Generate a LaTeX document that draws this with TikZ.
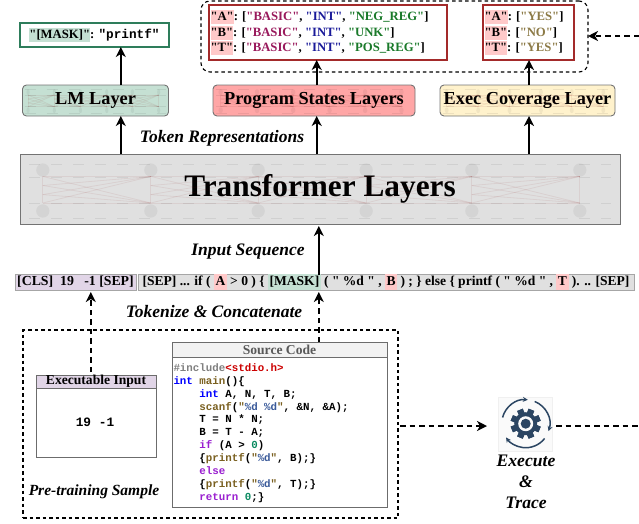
\documentclass[tikz,border=0pt]{standalone}
\usepackage{fontspec}
\setmainfont{Liberation Serif}[Ligatures=TeXOff]
\setmonofont{Liberation Mono}
\usetikzlibrary{arrows.meta, calc}
\definecolor{lmgreen}{HTML}{C5E0D3}
\definecolor{lmedge}{HTML}{2E7D5B}
\definecolor{statered}{HTML}{FFA6A6}
\definecolor{boxred}{HTML}{A32A2A}
\definecolor{hlred}{HTML}{FFC9C9}
\definecolor{covyellow}{HTML}{FFF2CC}
\definecolor{tfgray}{HTML}{E0E0E0}
\definecolor{inpurple}{HTML}{E1D5E7}
\definecolor{gearblue}{HTML}{2B4562}
\definecolor{valbasic}{HTML}{99195C}
\definecolor{valint}{HTML}{1A1A99}
\definecolor{valreg}{HTML}{1A7A2A}
\definecolor{valyes}{HTML}{8C7A46}
\definecolor{kwpurple}{HTML}{9A1FD0}
\definecolor{fnbrown}{HTML}{7A6020}
\definecolor{fmtblue}{HTML}{3A5A9A}
\definecolor{numgreen}{HTML}{0A8A60}
\setlength{\fboxsep}{0pt}
\newcommand{\hlbar}[2]{\colorbox{#1}{\rule[-4.5pt]{0pt}{16pt}\kern1.5pt #2\kern1.5pt}}
\newcommand{\hlkey}[2]{\colorbox{#1}{\rule[-3.5pt]{0pt}{14pt}#2}}
\newcommand{\cc}[2]{\textcolor{#1}{#2}}
\newcommand{\netlayer}[3]{%
	\begin{scope}[shift={(#1.north west)}, x=#2, y=-#3]
	\foreach \a/\b in {.038/.218,.218/.397,.397/.577,.577/.753,.753/.933} {
		\foreach \u in {.32,.45,.58,.70} \foreach \v in {.32,.70}
			\draw[red!50!black, draw opacity=.07, line width=.8pt] (\a,\u) -- (\b,\v);
	}
	\foreach \a in {.038,.218,.397,.577,.753,.933} {
		\draw[red!50!black, draw opacity=.07, line width=.8pt] (\a,.32) -- (\a,.70);
		\fill[black, fill opacity=.05] (\a,.229) circle[x radius=.011, y radius=.095];
		\fill[black, fill opacity=.05] (\a,.814) circle[x radius=.011, y radius=.095];
	}
	\foreach \y in {.143,.33,.70,.914}
		\draw[black, draw opacity=.07, line width=.8pt, dash pattern=on 11pt off 11pt] (.015,\y) -- (.985,\y);
	\end{scope}
}
\tikzset{
	every node/.style={inner sep=0pt, outer sep=0pt},
	layerbox/.style={draw=gray!90!black, line width=.9pt, minimum height=31pt, rounded corners=4pt,
		font=\bfseries\fontsize{18.3}{20}\selectfont},
	outbox/.style={draw=boxred, fill=white, line width=1.2pt},
	headbox/.style={draw=gray!85!black, line width=.9pt, anchor=north, font=\bfseries\fontsize{13.6}{15}\selectfont},
	panelbox/.style={draw=gray!85!black, line width=.9pt, fill=white},
	tokbar/.style={draw=gray!70, fill=tfgray, line width=.6pt, minimum height=16pt, font=\bfseries\fontsize{13.8}{15}\selectfont},
	caption/.style={font=\bfseries\itshape\fontsize{17.5}{20}\selectfont},
	flow/.style={-{Stealth[length=10pt, width=10pt, inset=3pt]}, line width=1.9pt},
	dashflow/.style={flow, dash pattern=on 5.5pt off 4pt},
	frame/.style={draw, line width=1.1pt, dash pattern=on 3.5pt off 3pt}
}
\begin{document}
\begin{tikzpicture}[x=1pt, y=-1pt]
	\useasboundingbox (0,0) rectangle (639,523);

	\node[draw=lmedge, fill=white, line width=1.2pt, minimum width=149pt, minimum height=24pt, font=\bfseries\fontsize{12.7}{14}\selectfont] (maskout) at (94.5,35)
		{\hlkey{lmgreen}{"[MASK]"}: {\ttfamily "printf"}};

	\node[layerbox, fill=lmgreen, minimum width=146pt] (lmlayer) at (95.5,100.5) {LM Layer};
	\node[layerbox, fill=statered, minimum width=202pt] (statelayer) at (314,100.5) {Program States Layers};
	\node[layerbox, fill=covyellow, minimum width=175pt] (execlayer) at (527.5,100.5) {Exec Coverage Layer};
	\node[layerbox, fill=tfgray, sharp corners, minimum width=600pt, minimum height=70pt, font=\bfseries\fontsize{31.3}{34}\selectfont] (tf) at (320,189) {Transformer Layers};
	\netlayer{lmlayer}{146pt}{31pt}
	\netlayer{statelayer}{202pt}{31pt}
	\netlayer{execlayer}{175pt}{31pt}
	\netlayer{tf}{600pt}{70pt}

	% program state outputs
	\node[frame, rounded corners=9pt, minimum width=387pt, minimum height=71pt] (stateframe) at (394.5,36.5) {};
	\node[outbox, minimum width=238pt, minimum height=55pt] (statebox) at (328,32.5) {};
	\node[anchor=west, align=left, font=\bfseries\fontsize{12.7}{15.4}\selectfont] (statetext) at (statebox.west) {\kern1.5pt\hlkey{hlred}{"A"}: [\cc{valbasic}{"BASIC"}, \cc{valint}{"INT"}, \cc{valreg}{"NEG\_REG"}]\\
		\kern1.5pt\hlkey{hlred}{"B"}: [\cc{valbasic}{"BASIC"}, \cc{valint}{"INT"}, \cc{valreg}{"UNK"}]\\
		\kern1.5pt\hlkey{hlred}{"T"}: [\cc{valbasic}{"BASIC"}, \cc{valint}{"INT"}, \cc{valreg}{"POS\_REG"}]};
	\node[outbox, minimum width=91pt, minimum height=55pt] (covbox) at (528.5,32.5) {};
	\node[anchor=west, align=left, font=\bfseries\fontsize{12.7}{15.4}\selectfont] (covtext) at (covbox.west) {\kern1.5pt\hlkey{hlred}{"A"}: [\cc{valyes}{"YES"}]\\
		\kern1.5pt\hlkey{hlred}{"B"}: [\cc{valyes}{"NO"}]\\
		\kern1.5pt\hlkey{hlred}{"T"}: [\cc{valyes}{"YES"}]};

	% token sequences
	\node[tokbar, fill=inpurple, minimum width=121pt] (tokin) at (75.5,282) {[CLS]\ \ 19\ \ \ -1 [SEP]};
	\node[tokbar, minimum width=496pt, font=\bfseries\fontsize{13.55}{15}\selectfont] (tokcode) at (386,282) {[SEP] ... if ( \hlbar{hlred}{A} > 0 ) \{ \hlbar{lmgreen}{[MASK]} ( " \%d " , \hlbar{hlred}{B} ) ; \} else \{ printf ( " \%d " , \hlbar{hlred}{T} ). .. [SEP]};

	% pre-training sample
	\node[frame, minimum width=375pt, minimum height=188pt] (samplebox) at (210.5,424) {};
	\node[panelbox, minimum width=120pt, minimum height=82pt] (execinput) at (96,416) {};
	\node[headbox, fill=inpurple, minimum width=120pt, minimum height=13pt] (exechead) at (execinput.north) {Executable Input};
	\node[font=\ttfamily\bfseries\fontsize{12.8}{14}\selectfont] (execval) at (95,422.5) {19 -1};
	\node[panelbox, minimum width=215pt, minimum height=165pt] (sourcecode) at (279.5,424.5) {};
	\node[headbox, fill=gray!10, text=black!65, minimum width=215pt, minimum height=15pt] (sourcehead) at (sourcecode.north) {Source Code};
	\node[anchor=north west, align=left, font=\ttfamily\bfseries\fontsize{10.8}{12.9}\selectfont] (codetext) at (173.5,363.5) {\cc{gray}{\#include}\cc{red!80!black}{<stdio.h>}\\
		\cc{blue}{int} \cc{fnbrown}{main}()\{\\
		~~~~\cc{blue}{int} A, N, T, B;\\
		~~~~\cc{fnbrown}{scanf}(\cc{fnbrown}{"}\cc{fmtblue}{\%d \%d}\cc{fnbrown}{"}, \&N, \&A);\\
		~~~~T = N * N;\\
		~~~~B = T - A;\\
		~~~~\cc{kwpurple}{if} (A > \cc{numgreen}{0})\\
		~~~~\{\cc{fnbrown}{printf}(\cc{fnbrown}{"}\cc{fmtblue}{\%d}\cc{fnbrown}{"}, B);\}\\
		~~~~\cc{kwpurple}{else}\\
		~~~~\{\cc{fnbrown}{printf}(\cc{fnbrown}{"}\cc{fmtblue}{\%d}\cc{fnbrown}{"}, T);\}\\
		~~~~\cc{kwpurple}{return} \cc{numgreen}{0};\}};

	% execute and trace icon
	\node[draw=gray!12, fill=gray!4, line width=.6pt, minimum width=54pt, minimum height=54pt] (gear) at (525,424) {};
	\begin{scope}[shift={(525.7,423.7)}, y=1pt]
		\foreach \t in {0,45,...,315}
			\fill[gearblue, rotate=\t+22.5] (-3,-15) rectangle (3,15);
		\fill[gearblue] (0,0) circle[radius=11.5];
		\fill[gray!4] (0,0) circle[radius=7.5];
		\fill[gearblue] (0,0) circle[radius=5];
		\draw[gearblue, line width=1.5pt, -{Stealth[length=5pt, width=5pt]}] (165:24) arc (165:85:24);
		\draw[gearblue, line width=1.5pt, -{Stealth[length=5pt, width=5pt]}] (68:24) arc (68:-18:24);
		\draw[gearblue, line width=1.5pt, -{Stealth[length=5pt, width=5pt]}] (-38:24) arc (-38:-145:24);
	\end{scope}
	\node[align=center, font=\bfseries\itshape\fontsize{17.6}{21}\selectfont] (tracetext) at (526,482) {Execute\\\&\\Trace};

	% captions
	\node[caption] (tokenrep) at (222,138) {Token Representations};
	\node[caption] (inputseq) at (248,252) {Input Sequence};
	\node[caption] (tokenize) at (214,312) {Tokenize \& Concatenate};
	\node[caption, font=\bfseries\itshape\fontsize{15.5}{18}\selectfont] (sampletext) at (94,492) {Pre-training Sample};

	% connectors
	\coordinate (lmx) at (120.8,0);
	\coordinate (statex) at (316.7,0);
	\coordinate (covx) at (529,0);
	\coordinate (inx) at (90.8,0);
	\coordinate (codex) at (318.8,0);
	\coordinate (tracein) at (639,36);
	\coordinate (traceout) at (639,426);
	\draw[flow] (lmx |- lmlayer.north) -- (lmx |- maskout.south);
	\draw[flow] (lmx |- tf.north) -- (lmx |- lmlayer.south);
	\draw[flow] (statex |- statelayer.north) -- (statex |- statebox.south);
	\draw[flow] (statex |- tf.north) -- (statex |- statelayer.south);
	\draw[flow] (covx |- execlayer.north) -- (covx |- covbox.south);
	\draw[flow] (covx |- tf.north) -- (covx |- execlayer.south);
	\draw[flow, shorten <=-1pt, shorten >=2pt] (codex |- tokcode.north) -- (codex |- tf.south);
	\draw[dashflow, shorten >=2pt] (inx |- exechead.north) ++(0,-3) -- (inx |- tokin.south);
	\draw[dashflow, shorten >=2pt] (codex |- sourcehead.north) -- (codex |- tokcode.south);
	\draw[dashflow] (tracein) -- (stateframe.east |- tracein);
	\draw[dashflow, shorten <=2pt, shorten >=11pt] (samplebox.east |- traceout) -- (gear.west |- traceout);
	\draw[dashflow, -, shorten <=4pt] (gear.east |- traceout) -- (traceout);
\end{tikzpicture}
\end{document}
